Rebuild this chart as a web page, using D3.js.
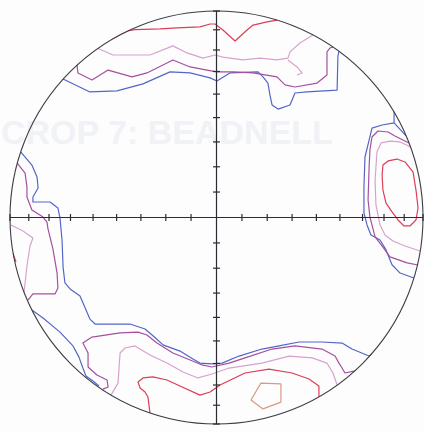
<!DOCTYPE html>
<html>
<head>
<meta charset="utf-8">
<script src="https://cdn.jsdelivr.net/npm/d3@7"></script>
<style>
  body { margin: 0; background: #fdfdfe; }
  svg { display: block; }
</style>
</head>
<body>
<div id="net"></div>
<script>
// equal-area net, contour vertices in percent of net radius (east, north)
var tickDips = [10, 20, 30, 40, 50, 60, 70, 80, 90]

var blueContours = [
  [[-74.3,67.1],[-61.3,60.8],[-48.2,61.3],[-35.6,64.7],[-22.5,70.5],[-12.8,70.0],[-3.1,67.6],[0.2,66.1],[6.5,70.0],[20.1,70.5],[22.5,68.1],[24.9,65.1],[25.9,59.3],[26.9,54.5],[29.8,52.5],[35.6,54.5],[38.0,60.3],[43.8,60.8],[58.4,61.7],[58.8,78.2],[59.3,80.5]],
  [[86.0,51.6],[86.0,45.8],[91.8,39.5]],
  [[86.0,45.8],[80.2,44.8],[75.3,43.3],[73.9,37.5],[71.9,29.3],[71.4,14.8],[71.4,2.2],[72.9,-3.6],[74.8,-8.5],[79.2,-10.9],[82.1,-15.7],[85.0,-22.9],[88.9,-26.9],[95.6,-29.3]],
  [[-94.7,31.7],[-89.4,25.4],[-86.9,19.6],[-86.4,14.3],[-88.9,9.9],[-88.9,7.5],[-80.6,7.5],[-76.8,4.6],[-75.8,-0.2],[-74.8,-10.9],[-74.3,-24.0],[-73.4,-31.7],[-70.9,-34.6],[-66.1,-38.0],[-61.3,-49.2],[-58.8,-51.6],[-41.9,-51.6],[-34.6,-54.0],[-29.8,-58.1],[-25.9,-61.7],[-17.7,-64.7],[-11.4,-68.5],[-8.0,-70.5],[-2.2,-70.9],[2.7,-70.5],[10.9,-67.1],[22.0,-63.7],[30.3,-62.2],[40.0,-60.3],[51.1,-60.3],[60.8,-60.8],[65.6,-63.7],[73.9,-67.1],[75.3,-66.1]],
  [[-89.4,-44.8],[-84.0,-48.7],[-75.8,-55.5],[-69.5,-62.2],[-66.6,-67.6],[-64.7,-72.9],[-63.2,-76.8],[-59.8,-79.2],[-56.9,-81.6]]
]

var purpleContours = [
  [[-67.6,74.3],[-67.1,70.0],[-60.3,66.6],[-52.5,71.4],[-40.9,68.1],[-33.7,70.0],[-21.1,76.3],[-12.8,72.9],[-4.6,71.4],[0.2,70.5],[8.0,70.5],[17.7,70.0],[29.3,68.1],[33.2,64.2],[38.0,63.2],[48.7,65.1],[53.5,69.0],[53.5,80.2],[55.0,82.1],[56.4,82.6]],
  [[93.2,36.1],[86.4,39.5],[83.1,41.4],[78.2,41.9],[75.3,39.0],[74.3,32.7],[73.9,24.5],[73.4,8.5],[74.3,0.2],[76.8,-9.4],[80.6,-14.3],[84.0,-19.1],[92.3,-22.0],[97.6,-23.0]],
  [[-96.6,26.4],[-92.7,21.5],[-91.8,14.8],[-91.8,9.9],[-89.4,3.6],[-84.0,0.2],[-82.1,-2.2],[-81.6,-5.5],[-79.2,-15.3],[-77.2,-26.9],[-76.8,-34.1],[-78.2,-37.0],[-88.9,-37.0],[-91.3,-40.0]],
  [[-55.0,-83.1],[-52.5,-82.1],[-53.0,-78.7],[-57.9,-76.3],[-62.2,-72.4],[-62.2,-65.6],[-64.7,-60.8],[-60.3,-57.9],[-46.7,-55.9],[-38.0,-55.5],[-33.7,-56.9],[-28.8,-60.8],[-21.1,-65.6],[-12.8,-69.0],[-7.0,-71.4],[-2.2,-72.4],[6.1,-70.5],[13.8,-68.0],[26.9,-63.7],[38.0,-62.2],[51.1,-63.7],[57.4,-67.1],[59.3,-70.5],[60.8,-72.9],[62.2,-75.3],[67.1,-74.3],[68.5,-73.4]]
]

var pinkContours = [
  [[-57.9,82.1],[-50.1,78.7],[-32.2,78.7],[-21.1,83.1],[-14.3,79.7],[-6.5,77.2],[-0.7,78.7],[3.1,77.7],[12.8,76.3],[21.1,77.2],[29.3,76.3],[34.6,77.2],[35.6,80.2],[40.4,84.5],[46.7,88.4]],
  [[34.6,76.3],[39.0,72.9],[41.4,70.0],[39.0,69.0]],
  [[94.2,34.1],[88.9,36.6],[84.0,37.0],[79.7,36.1],[77.7,31.7],[76.8,18.2],[77.2,6.1],[79.2,-3.6],[81.6,-8.5],[85.5,-11.4],[91.3,-13.8],[98.6,-16.2]],
  [[-99.5,-3.6],[-93.7,-6.5],[-88.9,-9.9],[-90.3,-13.8],[-91.8,-23.5],[-92.7,-31.7],[-93.2,-36.1]],
  [[-51.1,-86.0],[-47.7,-80.2],[-46.7,-65.6],[-44.3,-63.2],[-39.5,-62.2],[-32.2,-66.6],[-24.0,-70.5],[-16.2,-74.8],[-9.0,-77.7],[-2.2,-75.8],[6.1,-72.9],[22.0,-70.5],[35.1,-67.1],[46.3,-68.0],[53.5,-70.5],[56.4,-75.3],[58.4,-81.1]]
]

var redContours = [
  [[-50.6,86.4],[-43.3,90.3],[-39.5,91.0],[-27.4,91.3],[-19.1,91.8],[-8.0,92.3],[-3.1,93.7],[-0.7,93.7],[3.1,90.8],[9.0,85.5],[14.8,90.8],[17.7,93.2],[24.5,94.7],[29.3,95.6]],
  [[80.2,20.6],[80.6,25.4],[83.1,27.4],[87.4,28.3],[91.3,26.9],[95.2,22.0],[96.6,13.3],[97.6,4.6],[96.6,-1.2],[93.7,-4.1],[90.8,-4.1],[87.9,-1.2],[85.0,2.7],[82.1,7.0],[80.6,13.3],[80.2,20.6]],
  [[-98.6,-17.2],[-97.1,-21.5]],
  [[-32.2,-94.7],[-33.2,-86.9],[-34.6,-84.5],[-37.0,-82.6],[-38.0,-79.7],[-35.6,-77.7],[-30.8,-77.2],[-24.0,-78.7],[-17.7,-81.6],[-8.0,-86.0],[-3.1,-84.5],[1.7,-81.1],[13.8,-75.3],[25.4,-73.4],[36.6,-75.3],[44.8,-78.2],[49.6,-81.6],[49.6,-86.9]]
]

var tanContours = [
  [[21.5,-80.2],[31.2,-80.6],[31.2,-89.4],[22.5,-92.7],[16.7,-88.4],[21.5,-80.2]]
]

var levels = [
  { lines: blueContours, color: '#5366c8' },
  { lines: purpleContours, color: '#a4509f' },
  { lines: pinkContours, color: '#d8a2cd' },
  { lines: redContours, color: '#dc3d57' },
  { lines: tanContours, color: '#d99a80' }
]

var width = 424
var height = 433
var cx = 216.5
var cy = 217.5
var radius = 206.5

var svg = d3.select('#net')
  .append('svg')
  .attr('width', width)
  .attr('height', height)

var x = d3.scaleLinear().domain([-100, 100]).range([cx - radius, cx + radius])
var y = d3.scaleLinear().domain([-100, 100]).range([cy + radius, cy - radius])

// faint show-through from the scanned page
svg.append('text')
  .attr('x', 1)
  .attr('y', 144)
  .attr('font-family', 'Liberation Sans, Arial, sans-serif')
  .attr('font-weight', 'bold')
  .attr('font-size', 34)
  .attr('fill', '#f0f2f6')
  .text('CROP 7: BEADNELL')

svg.append('clipPath')
  .attr('id', 'netclip')
  .append('circle')
  .attr('cx', x(0))
  .attr('cy', y(0))
  .attr('r', x(100) - x(0) + 0.5)

var line = d3.line()
  .x(function(d) { return x(d[0]) })
  .y(function(d) { return y(d[1]) })

var contours = svg.append('g').attr('clip-path', 'url(#netclip)')

levels.forEach(function(level) {
  contours.selectAll(null)
    .data(level.lines)
    .enter()
    .append('path')
    .attr('d', line)
    .attr('fill', 'none')
    .attr('stroke', level.color)
    .attr('stroke-width', 1.2)
    .attr('stroke-linejoin', 'round')
})

// primitive circle
svg.append('circle')
  .attr('cx', x(0))
  .attr('cy', y(0))
  .attr('r', x(100) - x(0))
  .attr('fill', 'none')
  .attr('stroke', '#3d3d45')
  .attr('stroke-width', 1.1)

// cross hairs
var axes = svg.append('g')
  .attr('stroke', '#2b2b33')
  .attr('stroke-width', 1.2)

axes.append('line')
  .attr('x1', x(-100)).attr('x2', x(100))
  .attr('y1', y(0)).attr('y2', y(0))
axes.append('line')
  .attr('x1', x(0)).attr('x2', x(0))
  .attr('y1', y(100)).attr('y2', y(-100))

// equal-area tick radii every 10 degrees
function tickR(dip) {
  return 100 * Math.SQRT2 * Math.sin(dip / 2 * Math.PI / 180)
}

var tickPos = []
tickDips.forEach(function(d) {
  tickPos.push(tickR(d))
  tickPos.push(-tickR(d))
})

axes.selectAll('.xtick')
  .data(tickPos)
  .enter()
  .append('line')
  .attr('class', 'xtick')
  .attr('x1', function(d) { return x(d) })
  .attr('x2', function(d) { return x(d) })
  .attr('y1', y(0) - 3.5)
  .attr('y2', y(0) + 3.5)

axes.selectAll('.ytick')
  .data(tickPos)
  .enter()
  .append('line')
  .attr('class', 'ytick')
  .attr('x1', x(0) - 3.5)
  .attr('x2', x(0) + 3.5)
  .attr('y1', function(d) { return y(d) })
  .attr('y2', function(d) { return y(d) })
</script>
</body>
</html>
